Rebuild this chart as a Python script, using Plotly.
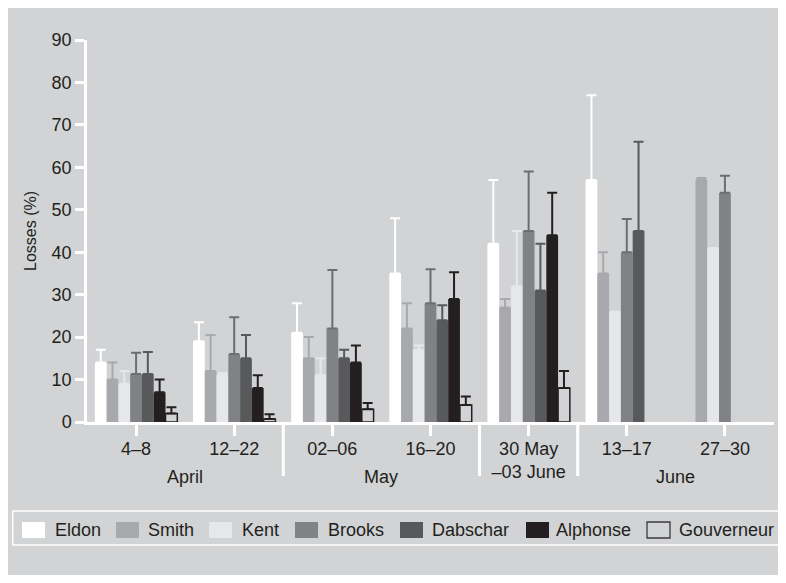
import plotly.graph_objects as go

# ---- data ----
periods = ["4–8", "12–22", "02–06", "16–20", "30 May<br>–03 June", "13–17", "27–30"]
months = ["April", "May", "June"]
month_pos = [0.5, 2.5, 5.5]
month_breaks = [1.5, 3.5, 4.5]

series = ["Eldon", "Smith", "Kent", "Brooks", "Dabschar", "Alphonse", "Gouverneur"]
eldon = [14, 19, 21, 35, 42, 57, None]
smith = [10, 12, 15, 22, 27, 35, 57]
kent = [9, 11, 11, 17, 32, 26, 41]
brooks = [11.3, 16, 22, 28, 45, 40, 54]
dabschar = [11.3, 15, 15, 24, 31, 45, None]
alphonse = [7, 8, 14, 29, 44, None, None]
gouverneur = [2, 0.7, 3, 4, 8, None, None]

eldon_err = [3, 4.5, 7, 13, 15, 20, None]
smith_err = [4, 8.5, 5, 6, 2, 5, 0.5]
kent_err = [3, 0.5, 4, 1, 13, 0, 0]
brooks_err = [5, 8.7, 13.8, 8, 14, 7.8, 4]
dabschar_err = [5.2, 5.5, 2, 3.5, 11, 21, None]
alphonse_err = [3, 3, 4, 6.3, 10, None, None]
gouverneur_err = [1.5, 1.1, 1.5, 2, 4, None, None]

values = [eldon, smith, kent, brooks, dabschar, alphonse, gouverneur]
errors = [eldon_err, smith_err, kent_err, brooks_err, dabschar_err, alphonse_err, gouverneur_err]

BG = "#d1d3d4"
TXT = "#231f20"
fills = ["#ffffff", "#a7a9ac", "#e6e7e8", "#808285", "#58595b", "#231f20", BG]
errcols = ["#ffffff", "#a7a9ac", "#e6e7e8", "#6d6e71", "#58595b", "#231f20", "#231f20"]
outline = [0, 0, 0, 0, 0, 0, 1.5]

FONT = "Liberation Sans, Arial, sans-serif"

fig = go.Figure()
for name, v, e, fc, ec, lw in zip(series, values, errors, fills, errcols, outline):
    fig.add_trace(go.Bar(
        name=name, x=list(range(len(periods))), y=v,
        marker=dict(color=fc, line=dict(color=TXT, width=lw)),
        error_y=dict(type="data", symmetric=False, array=e,
                     arrayminus=[0 if a is not None else None for a in e],
                     color=ec, thickness=2, width=5),
        showlegend=False,
    ))

# page offset (browser body margin) and plot-area edges in screen pixels
OFF = 8
FIG_W, FIG_H = 786 - OFF, 583 - 2 * OFF
L, R, T, B = 87, 774, 40, 422
W, H = R - L, B - T
def xp(px):
    return (px - L) / W
def yp(py):
    return (B - py) / H

shapes = []
annotations = []
# month separators
for b in month_breaks:
    shapes.append(dict(type="line", xref="x", yref="paper", x0=b, x1=b, y0=0, y1=yp(476),
                       line=dict(color="white", width=3)))
for m, p in zip(months, month_pos):
    annotations.append(dict(text=m, x=p, y=yp(477), xref="x", yref="paper", showarrow=False,
                            xanchor="center", yanchor="middle", font=dict(size=18, color=TXT, family=FONT)))

# legend box
shapes.append(dict(type="rect", xref="paper", yref="paper", x0=xp(12.7), x1=xp(800), y0=yp(545), y1=yp(511),
                   fillcolor=BG, line=dict(color="white", width=1.5)))
sw_x = [22, 116, 209, 295, 400, 526, 647]
tx_x = [55, 148, 242, 328, 432, 556, 679]
for name, fc, sx, tx, lw in zip(series, fills, sw_x, tx_x, outline):
    shapes.append(dict(type="rect", xref="paper", yref="paper", x0=xp(sx), x1=xp(sx + 23), y0=yp(538), y1=yp(522),
                       fillcolor=fc, line=dict(color="#3a3a3c", width=1.3 if lw else 0)))
    annotations.append(dict(text=name, x=xp(tx - 2), y=yp(530), xref="paper", yref="paper", showarrow=False,
                            xanchor="left", yanchor="middle", font=dict(size=18, color=TXT, family=FONT)))

fig.update_layout(
    width=FIG_W, height=FIG_H,
    margin=dict(l=L - OFF, r=FIG_W - (R - OFF), t=T - OFF, b=FIG_H - (B - OFF)),
    paper_bgcolor=BG, plot_bgcolor=BG,
    barmode="group", bargap=0.16, bargroupgap=0,
    font=dict(family=FONT, size=18, color=TXT),
    shapes=shapes, annotations=annotations,
    xaxis=dict(
        range=[-0.5, 6.5], tickmode="array", tickvals=list(range(len(periods))), ticktext=periods,
        showline=True, linecolor="white", linewidth=3,
        ticks="outside", tickson="boundaries", ticklen=11, tickwidth=2.5, tickcolor="white",
        showgrid=False, zeroline=False, tickfont=dict(size=18, color=TXT),
        ticklabelstandoff=-3,
    ),
    yaxis=dict(
        range=[0, 90], tick0=0, dtick=10, showline=True, linecolor="white", linewidth=2.5,
        ticks="outside", ticklen=9, tickwidth=2.5, tickcolor="white",
        showgrid=False, zeroline=False, tickfont=dict(size=18, color=TXT),
        title=dict(text="Losses (%)", font=dict(size=16, color=TXT), standoff=12),
    ),
)

fig.write_html("out.html")
